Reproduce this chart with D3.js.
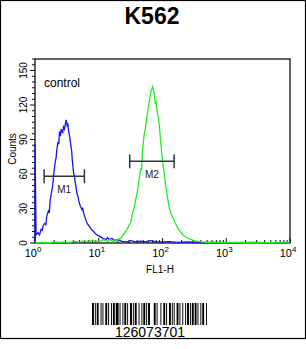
<!DOCTYPE html>
<html>
<head>
<meta charset="utf-8">
<script src="https://cdn.jsdelivr.net/npm/d3@7"></script>
<style>
  body { margin: 0; background: #fff; }
  svg { display: block; font-family: "Liberation Sans", Arial, sans-serif; }
</style>
</head>
<body>
<div id="chart"></div>
<script>
// flow histogram, FL1-H vs Counts

const title = "K562";
const xLabel = "FL1-H";
const yLabel = "Counts";
const yTicks = [0, 30, 60, 90, 120, 150];
const xDecades = [0, 1, 2, 3, 4];
const sampleId = "126073701";

// control (blue): FL1-H intensity, counts
const controlX = [1.0, 1.0, 1.04, 1.08, 1.12, 1.18, 1.25, 1.3, 1.34, 1.42, 1.48, 1.53, 1.62, 1.68, 1.73, 1.84,
  1.9, 1.95, 2.07, 2.14, 2.2, 2.3, 2.36, 2.42, 2.5, 2.58, 2.64, 2.72, 2.8, 2.9, 3.0, 3.09, 3.2, 3.28, 3.36,
  3.5, 3.67, 3.76, 3.85, 4.03, 4.15, 4.3, 4.56, 4.7, 4.85, 5.15, 5.45, 5.6, 5.8, 6.2, 6.56, 7.0, 7.4, 7.9,
  8.35, 8.9, 9.43, 10.2, 11.3, 12.2, 13.0, 13.8, 14.6, 16, 18, 20, 23, 27, 32, 38, 45, 55, 65, 80, 100,
  130, 170, 250, 400, 700, 1200, 2500, 5000, 10000];
const controlY = [0, 86, 7, 8, 9, 7, 12, 11, 15, 17, 16, 23, 28, 27, 37, 46,
  50, 58, 70, 74, 81, 88, 86, 97, 93, 99, 97, 96, 101, 99, 104, 107, 102, 103, 98,
  92, 84, 80, 72, 61, 58, 52, 43, 41, 37, 32, 29, 30, 26, 21, 17, 15, 13, 11,
  10, 8, 7, 6, 4.5, 3.5, 3, 4.5, 3, 4, 2, 3, 1.5, 1, 2, 1, 1.5, 1, 2, 1, 1,
  1.2, 0.5, 1, 0.3, 0.6, 0.2, 0.5, 0.2, 0];

// stained (green): FL1-H intensity, counts
const stainX = [1.0, 1.3, 1.6, 2, 2.5, 3, 3.5, 4, 5, 6, 7, 8, 9, 10, 11, 12, 13, 14, 15, 16, 17, 18, 19, 20,
  22.1, 24, 26.5, 29, 31.8, 33.5, 35.8, 38, 40.5, 43, 45.7, 47, 48.5, 51.5, 54, 56.9, 59, 61.8, 64, 65.8,
  68, 70, 72, 74.2, 77, 79, 80.9, 85, 89, 93, 97.1, 102, 107, 112, 118, 123, 128, 136, 145, 160, 174, 190,
  209, 235, 265, 300, 350, 406, 500, 600, 841, 1200, 2000, 5000, 10000];
const stainY = [0, 0.5, 0, 1, 0.5, 1, 0.3, 1.5, 1, 2, 1, 2.5, 1.5, 1, 2, 3, 2, 1.5, 3, 2, 1, 3, 2, 3,
  4, 7, 10, 14, 18, 25, 30, 38, 45, 55, 65, 63, 80, 94, 100, 109, 116, 123, 128, 132,
  134, 136, 133, 129, 122, 123, 117, 110, 103, 90, 79, 68, 59, 50, 42, 36, 30, 26, 22, 17, 13, 10,
  7, 5, 3.5, 2.5, 1.5, 1, 0.5, 0.8, 0.3, 0.5, 0.2, 0.3, 0];

// gate markers
const markerNames = ["M1", "M2"];
const markerLow = [1.39, 30.6];
const markerHigh = [5.95, 152];
const markerLevel = [58, 71];

// barcode bar / space widths (alternating, starting with a bar)
const barcodeWidths = [2, 1, 1, 1, 2, 2, 1, 1, 1, 2, 2, 1, 1, 2, 1, 1, 2, 1, 3, 1, 1, 2, 1, 1, 2, 1, 1, 2,
  2, 1, 1, 1, 2, 2, 1, 2, 1, 1, 2, 1, 1, 1, 2, 4, 2, 1, 1, 3, 1, 2, 2, 1, 1, 2, 2, 1, 1, 1, 1, 2, 2, 1,
  1, 2, 1, 2, 1, 1, 2, 1, 1, 1, 2, 1, 2, 1, 1, 2, 1, 1, 2, 2, 1];

const W = 306, H = 349;
const svg = d3.select("#chart").append("svg")
  .attr("width", W)
  .attr("height", H);

// outer border
svg.append("rect")
  .attr("x", 0.5).attr("y", 0.5)
  .attr("width", W - 1).attr("height", 338)
  .attr("fill", "none")
  .attr("stroke", "#000")
  .attr("stroke-width", 1.2);

svg.append("text")
  .attr("x", 152).attr("y", 24)
  .attr("text-anchor", "middle")
  .style("font-size", "23px")
  .style("font-weight", "bold")
  .text(title);

const x = d3.scaleLog().domain([1, 10000]).range([35, 290]);
const y = d3.scaleLinear().domain([0, 160]).range([243, 59]);

// frame
svg.append("rect")
  .attr("x", x.range()[0]).attr("y", y.range()[1])
  .attr("width", x.range()[1] - x.range()[0])
  .attr("height", y.range()[0] - y.range()[1])
  .attr("fill", "none")
  .attr("stroke", "#111")
  .attr("stroke-width", 1.3);

// y axis ticks
const yMinor = d3.range(0, 161, 5);
svg.append("g").selectAll("line").data(yMinor).enter().append("line")
  .attr("x1", (d) => x.range()[0] - (d % 30 === 0 ? 5 : 3))
  .attr("x2", x.range()[0])
  .attr("y1", (d) => y(d)).attr("y2", (d) => y(d))
  .attr("stroke", "#111").attr("stroke-width", 1);

svg.append("g").selectAll("text").data(yTicks).enter().append("text")
  .attr("transform", (d) => `translate(27,${y(d)}) rotate(-90)`)
  .attr("text-anchor", "middle")
  .style("font-size", "10px")
  .text((d) => d);

svg.append("text")
  .attr("transform", `translate(16,149) rotate(-90)`)
  .attr("text-anchor", "middle")
  .style("font-size", "10px")
  .text(yLabel);

// x axis ticks (inward)
const xMinor = [];
xDecades.slice(0, -1).forEach((k) => {
  for (let m = 2; m <= 9; m++) xMinor.push(m * Math.pow(10, k));
});
svg.append("g").selectAll("line").data(xMinor).enter().append("line")
  .attr("x1", (d) => x(d)).attr("x2", (d) => x(d))
  .attr("y1", y.range()[0]).attr("y2", y.range()[0] - 3)
  .attr("stroke", "#111").attr("stroke-width", 1);
svg.append("g").selectAll("line").data(xDecades).enter().append("line")
  .attr("x1", (d) => x(Math.pow(10, d))).attr("x2", (d) => x(Math.pow(10, d)))
  .attr("y1", y.range()[0]).attr("y2", y.range()[0] - 5)
  .attr("stroke", "#111").attr("stroke-width", 1);

const xl = svg.append("g").selectAll("text").data(xDecades).enter().append("text")
  .attr("x", (d) => x(Math.pow(10, d)) - 2)
  .attr("y", 257)
  .attr("text-anchor", "middle")
  .style("font-size", "11px");
xl.append("tspan").text("10");
xl.append("tspan")
  .attr("dy", -5)
  .style("font-size", "8px")
  .text((d) => d);

svg.append("text")
  .attr("x", 160).attr("y", 273)
  .attr("text-anchor", "middle")
  .style("font-size", "10px")
  .text(xLabel);

svg.append("text")
  .attr("x", 44).attr("y", 87)
  .style("font-size", "12px")
  .text("control");

// histograms
const line = d3.line()
  .x((d) => x(d[0]))
  .y((d) => y(d[1]));

svg.append("path")
  .datum(d3.zip(controlX, controlY))
  .attr("d", line)
  .attr("fill", "none")
  .attr("stroke", "#1414f0")
  .attr("stroke-width", 1.3);

svg.append("path")
  .datum(d3.zip(stainX, stainY))
  .attr("d", line)
  .attr("fill", "none")
  .attr("stroke", "#22ee22")
  .attr("stroke-width", 1.3);

// markers
const markers = svg.append("g").selectAll("g").data(markerNames).enter().append("g");
markers.append("line")
  .attr("x1", (d, i) => x(markerLow[i])).attr("x2", (d, i) => x(markerHigh[i]))
  .attr("y1", (d, i) => y(markerLevel[i])).attr("y2", (d, i) => y(markerLevel[i]));
markers.append("line")
  .attr("x1", (d, i) => x(markerLow[i])).attr("x2", (d, i) => x(markerLow[i]))
  .attr("y1", (d, i) => y(markerLevel[i]) - 7).attr("y2", (d, i) => y(markerLevel[i]) + 7);
markers.append("line")
  .attr("x1", (d, i) => x(markerHigh[i])).attr("x2", (d, i) => x(markerHigh[i]))
  .attr("y1", (d, i) => y(markerLevel[i]) - 7).attr("y2", (d, i) => y(markerLevel[i]) + 7);
markers.selectAll("line")
  .attr("stroke", "#333")
  .attr("stroke-width", 1.5);
markers.append("text")
  .attr("x", (d, i) => (x(markerLow[i]) + x(markerHigh[i])) / 2)
  .attr("y", (d, i) => y(markerLevel[i]) + 17)
  .attr("text-anchor", "middle")
  .style("font-size", "10px")
  .attr("fill", "#222")
  .text((d) => d);

// barcode
const bars = [];
let pos = 0;
barcodeWidths.forEach((w, i) => {
  if (i % 2 === 0) bars.push({ start: pos, width: w });
  pos += w;
});
const bx = d3.scaleLinear().domain([0, pos]).range([92, 207]);
svg.append("g").selectAll("rect").data(bars).enter().append("rect")
  .attr("x", (d) => bx(d.start))
  .attr("y", 303)
  .attr("width", (d) => bx(d.start + d.width) - bx(d.start))
  .attr("height", 22)
  .attr("fill", "#000");

svg.append("text")
  .attr("x", 150).attr("y", 337)
  .attr("text-anchor", "middle")
  .style("font-size", "14px")
  .text(sampleId);
</script>
</body>
</html>
